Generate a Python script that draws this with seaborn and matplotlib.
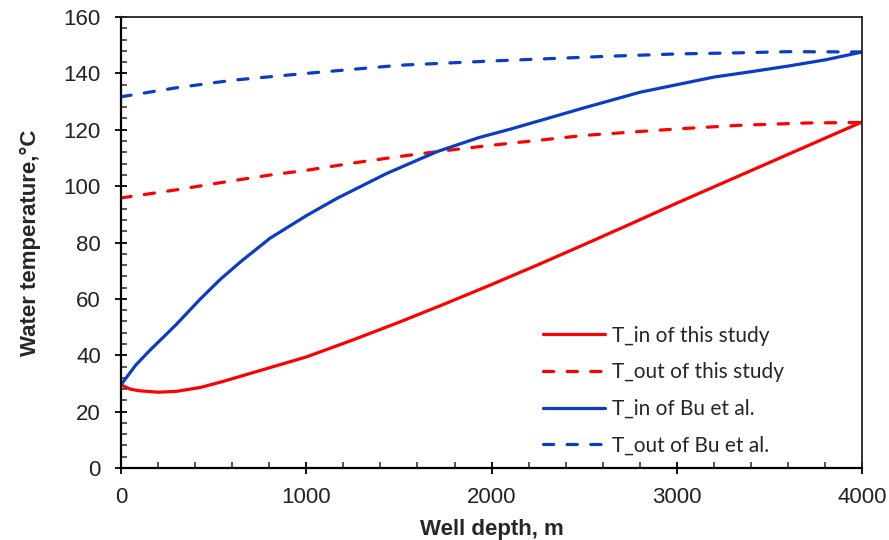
import numpy as np
import pandas as pd
import matplotlib
matplotlib.use("Agg")
import matplotlib.pyplot as plt
import seaborn as sns

# ---- data ----
depth_in_study = [0, 50, 100, 200, 300, 430, 550, 700, 850, 1000, 1250, 1500, 1750, 2000,
                  2250, 2500, 2750, 3000, 3250, 3500, 3750, 4000]
temp_in_study = [29.5, 28.0, 27.4, 26.9, 27.2, 28.6, 30.7, 33.6, 36.5, 39.4, 45.4, 51.7, 58.3,
                 65.1, 72.1, 79.3, 86.6, 94.0, 101.2, 108.4, 115.6, 122.8]

depth_out_study = [0, 300, 534, 800, 1000, 1253, 1500, 1750, 2000, 2500, 3000, 3341, 3700, 4000]
temp_out_study = [95.8, 98.7, 101.2, 103.9, 105.6, 108.2, 110.5, 112.6, 114.5, 118.0, 120.3,
                  121.6, 122.4, 122.6]

depth_in_bu = [0, 80, 157, 300, 426, 534, 650, 804, 1000, 1164, 1434, 1704, 1930, 2100, 2300,
               2500, 2800, 3000, 3200, 3400, 3600, 3800, 4000]
temp_in_bu = [29.5, 36.5, 41.8, 51.0, 59.8, 66.8, 73.4, 81.5, 89.5, 95.6, 104.5, 112.2, 117.2,
              120.2, 124.0, 127.8, 133.3, 136.0, 138.7, 140.6, 142.6, 144.8, 147.6]

depth_out_bu = [0, 300, 606, 1000, 1506, 2000, 2640, 3000, 3341, 3600, 4000]
temp_out_bu = [131.7, 134.9, 137.6, 140.0, 142.9, 144.4, 146.1, 146.9, 147.3, 147.7, 147.6]

labels = ["T_in of this study", "T_out of this study", "T_in of Bu et al.", "T_out of Bu et al."]

x_ticks = [0, 1000, 2000, 3000, 4000]
y_ticks = [0, 20, 40, 60, 80, 100, 120, 140, 160]

frames = []
for lab, xs, ys in zip(labels,
                       [depth_in_study, depth_out_study, depth_in_bu, depth_out_bu],
                       [temp_in_study, temp_out_study, temp_in_bu, temp_out_bu]):
    frames.append(pd.DataFrame({"depth": xs, "temp": ys, "series": lab}))
df = pd.concat(frames, ignore_index=True)

sns.set_style("white")
plt.rcParams["font.family"] = ["Liberation Sans", "DejaVu Sans"]

fig = plt.figure(figsize=(8.89, 5.40), dpi=100)
ax = fig.add_axes([0.136, 0.1333, 0.834, 0.8352])

red = "#FF0000"
blue = "#0A3CC8"
palette = {labels[0]: red, labels[1]: red, labels[2]: blue, labels[3]: blue}
dashes = {labels[0]: "", labels[1]: (3.2, 4.2), labels[2]: "", labels[3]: (3.2, 4.2)}

sns.lineplot(data=df, x="depth", y="temp", hue="series", style="series",
             hue_order=labels, style_order=labels, palette=palette, dashes=dashes,
             sort=False, estimator=None, linewidth=2.3, ax=ax, legend=True)

for ln in ax.get_lines():
    ln.set_dash_capstyle("round")
    ln.set_solid_capstyle("round")
    ln.set_solid_joinstyle("round")

ax.set_xlim(0, 4000)
ax.set_ylim(0, 160)
ax.set_xticks(x_ticks)
ax.set_yticks(y_ticks)
ax.set_xticks(np.arange(0, 4001, 200), minor=True)
ax.set_yticks(np.arange(0, 161, 4), minor=True)
ax.tick_params(axis="both", which="major", direction="inout", length=9, width=1.3,
               labelsize=16, colors="black", bottom=True, left=True)
ax.tick_params(axis="x", which="major", pad=9)
ax.tick_params(axis="y", which="major", pad=10)
ax.tick_params(axis="both", which="minor", direction="in", length=4.5, width=1.1,
               bottom=True, left=True)
ax.tick_params(labelcolor="#222222")

for s in ["left", "bottom"]:
    ax.spines[s].set_linewidth(1.6)
    ax.spines[s].set_color("black")
for s in ["top", "right"]:
    ax.spines[s].set_linewidth(1.3)
    ax.spines[s].set_color("#222222")

ax.set_xlabel("Well depth, m", fontsize=16, fontweight="bold", labelpad=8)
ax.set_ylabel("Water temperature,°C", fontsize=16, fontweight="bold", labelpad=16)

leg = ax.legend(loc="lower right", bbox_to_anchor=(0.919, -0.014), frameon=False,
                prop={"family": ["Lato", "DejaVu Sans"], "size": 15},
                handlelength=3.0, handletextpad=0.3, labelspacing=0.8)
for h in leg.get_lines():
    h.set_linewidth(2.3)

fig.savefig("out.png", dpi=100, facecolor="white")
